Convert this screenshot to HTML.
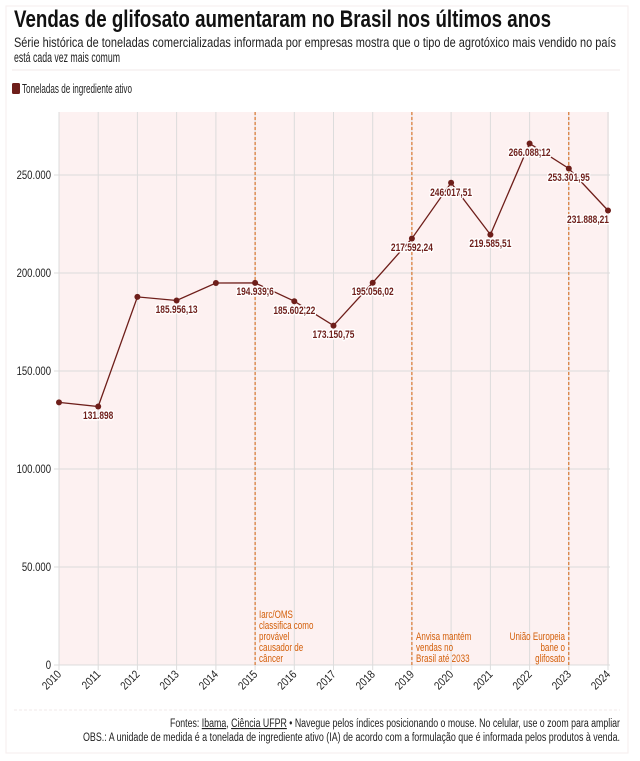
<!DOCTYPE html>
<html><head><meta charset="utf-8"><style>
html,body{margin:0;padding:0;background:#fff;}
svg{display:block;font-family:"Liberation Sans",sans-serif;}
.yl{font-size:11.5px;fill:#222;text-anchor:end;}
.xl{font-size:11.5px;fill:#222;text-anchor:end;}
.dl{font-size:11.5px;font-weight:bold;fill:#6e1e1a;text-anchor:middle;stroke:#fff;stroke-width:3px;paint-order:stroke;stroke-linejoin:round;}
.an{font-size:11px;fill:#d35f0a;}
</style></head><body>
<svg width="640" height="761" viewBox="0 0 640 761">
<rect x="6" y="6" width="622" height="747" fill="none" stroke="#f6eded" stroke-width="1"/>
<text x="14" y="27" font-size="24" font-weight="bold" fill="#111" textLength="537" lengthAdjust="spacingAndGlyphs">Vendas de glifosato aumentaram no Brasil nos últimos anos</text>
<text x="14" y="47" font-size="13.5" fill="#222" textLength="602" lengthAdjust="spacingAndGlyphs">Série histórica de toneladas comercializadas informada por empresas mostra que o tipo de agrotóxico mais vendido no país</text>
<text x="14" y="62" font-size="13.5" fill="#222" textLength="106" lengthAdjust="spacingAndGlyphs">está cada vez mais comum</text>
<line x1="12" y1="70" x2="620" y2="70" stroke="#f2eaea"/>
<rect x="12" y="83" width="8" height="11" rx="1.5" fill="#6e1e1a"/>
<text x="22" y="93" font-size="13" fill="#222" textLength="110" lengthAdjust="spacingAndGlyphs">Toneladas de ingrediente ativo</text>
<rect x="59" y="112" width="550" height="553" fill="#fdf1f1"/>
<g stroke="#dcdcdc" stroke-width="1">
<line x1="59" y1="567" x2="610" y2="567"/><line x1="59" y1="469" x2="610" y2="469"/><line x1="59" y1="371" x2="610" y2="371"/><line x1="59" y1="273" x2="610" y2="273"/><line x1="59" y1="175" x2="610" y2="175"/>
<line x1="54" y1="665" x2="610" y2="665"/>
<line x1="54" y1="567" x2="59" y2="567"/><line x1="54" y1="469" x2="59" y2="469"/><line x1="54" y1="371" x2="59" y2="371"/><line x1="54" y1="273" x2="59" y2="273"/><line x1="54" y1="175" x2="59" y2="175"/>
<line x1="59.0" y1="112" x2="59.0" y2="670"/><line x1="98.2" y1="112" x2="98.2" y2="670"/><line x1="137.4" y1="112" x2="137.4" y2="670"/><line x1="176.6" y1="112" x2="176.6" y2="670"/><line x1="215.9" y1="112" x2="215.9" y2="670"/><line x1="255.1" y1="112" x2="255.1" y2="670"/><line x1="294.3" y1="112" x2="294.3" y2="670"/><line x1="333.5" y1="112" x2="333.5" y2="670"/><line x1="372.7" y1="112" x2="372.7" y2="670"/><line x1="411.9" y1="112" x2="411.9" y2="670"/><line x1="451.1" y1="112" x2="451.1" y2="670"/><line x1="490.4" y1="112" x2="490.4" y2="670"/><line x1="529.6" y1="112" x2="529.6" y2="670"/><line x1="568.8" y1="112" x2="568.8" y2="670"/><line x1="608.0" y1="112" x2="608.0" y2="670"/>
</g>
<g stroke="#d35f0a" stroke-width="1" stroke-dasharray="3,2">
<line x1="255.1" y1="112" x2="255.1" y2="665"/><line x1="411.9" y1="112" x2="411.9" y2="665"/><line x1="568.8" y1="112" x2="568.8" y2="665"/>
</g>
<g class="yl">
<text transform="translate(51,669) scale(.83,1)">0</text><text transform="translate(51,571) scale(.83,1)">50.000</text><text transform="translate(51,473) scale(.83,1)">100.000</text><text transform="translate(51,375) scale(.83,1)">150.000</text><text transform="translate(51,277) scale(.83,1)">200.000</text><text transform="translate(51,179) scale(.83,1)">250.000</text>
</g>
<g class="an">
<g transform="translate(259,0) scale(.73,1)"><text y="618">Iarc/OMS</text><text y="629">classifica como</text><text y="640">provável</text><text y="651">causador de</text><text y="662">câncer</text></g>
<g transform="translate(416,0) scale(.73,1)"><text y="640">Anvisa mantém</text><text y="651">vendas no</text><text y="662">Brasil até 2033</text></g>
<g transform="translate(565,0) scale(.73,1)" text-anchor="end"><text y="640">União Europeia</text><text y="651">bane o</text><text y="662">glifosato</text></g>
</g>
<polyline fill="none" stroke="#6e1e1a" stroke-width="1.3" points="59,402.4 98.2,406.5 137.4,296.9 176.6,300.5 215.9,283 255.1,282.9 294.3,301.2 333.5,325.6 372.7,282.7 411.9,238.5 451.1,182.8 490.4,234.6 529.6,143.5 568.8,168.5 608,210.5"/>
<g fill="#6e1e1a">
<circle cx="59" cy="402.4" r="3"/><circle cx="98.2" cy="406.5" r="3"/><circle cx="137.4" cy="296.9" r="3"/><circle cx="176.6" cy="300.5" r="3"/><circle cx="215.9" cy="283" r="3"/><circle cx="255.1" cy="282.9" r="3"/><circle cx="294.3" cy="301.2" r="3"/><circle cx="333.5" cy="325.6" r="3"/><circle cx="372.7" cy="282.7" r="3"/><circle cx="411.9" cy="238.5" r="3"/><circle cx="451.1" cy="182.8" r="3"/><circle cx="490.4" cy="234.6" r="3"/><circle cx="529.6" cy="143.5" r="3"/><circle cx="568.8" cy="168.5" r="3"/><circle cx="608" cy="210.5" r="3"/>
</g>
<g class="dl">
<text transform="translate(98.2,419) scale(.73,1)">131.898</text>
<text transform="translate(176.6,313) scale(.73,1)">185.956,13</text>
<text transform="translate(255.1,295) scale(.73,1)">194.939,6</text>
<text transform="translate(294.3,314) scale(.73,1)">185.602,22</text>
<text transform="translate(333.5,338) scale(.73,1)">173.150,75</text>
<text transform="translate(372.7,295) scale(.73,1)">195.056,02</text>
<text transform="translate(411.9,251) scale(.73,1)">217.592,24</text>
<text transform="translate(451.1,196) scale(.73,1)">246.017,51</text>
<text transform="translate(490.4,247) scale(.73,1)">219.585,51</text>
<text transform="translate(529.6,156) scale(.73,1)">266.088,12</text>
<text transform="translate(568.8,181) scale(.73,1)">253.301,95</text>
<text transform="translate(588,223) scale(.73,1)">231.888,21</text>
</g>
<g class="xl">
<text transform="translate(62,675) rotate(-45) scale(.85,1)">2010</text><text transform="translate(101.2,675) rotate(-45) scale(.85,1)">2011</text><text transform="translate(140.4,675) rotate(-45) scale(.85,1)">2012</text><text transform="translate(179.6,675) rotate(-45) scale(.85,1)">2013</text><text transform="translate(218.9,675) rotate(-45) scale(.85,1)">2014</text><text transform="translate(258.1,675) rotate(-45) scale(.85,1)">2015</text><text transform="translate(297.3,675) rotate(-45) scale(.85,1)">2016</text><text transform="translate(336.5,675) rotate(-45) scale(.85,1)">2017</text><text transform="translate(375.7,675) rotate(-45) scale(.85,1)">2018</text><text transform="translate(414.9,675) rotate(-45) scale(.85,1)">2019</text><text transform="translate(454.1,675) rotate(-45) scale(.85,1)">2020</text><text transform="translate(493.4,675) rotate(-45) scale(.85,1)">2021</text><text transform="translate(532.6,675) rotate(-45) scale(.85,1)">2022</text><text transform="translate(571.8,675) rotate(-45) scale(.85,1)">2023</text><text transform="translate(611,675) rotate(-45) scale(.85,1)">2024</text>
</g>
<line x1="14" y1="710" x2="620" y2="710" stroke="#f2eaea" stroke-dasharray="3,2"/>
<text x="620" y="727" font-size="11.5" fill="#222" text-anchor="end" textLength="450" lengthAdjust="spacingAndGlyphs">Fontes: <tspan text-decoration="underline">Ibama</tspan>, <tspan text-decoration="underline">Ciência UFPR</tspan> • Navegue pelos índices posicionando o mouse. No celular, use o zoom para ampliar</text>
<text x="620" y="741" font-size="11.5" fill="#222" text-anchor="end" textLength="537" lengthAdjust="spacingAndGlyphs">OBS.: A unidade de medida é a tonelada de ingrediente ativo (IA) de acordo com a formulação que é informada pelos produtos à venda.</text>
</svg>
</body></html>
